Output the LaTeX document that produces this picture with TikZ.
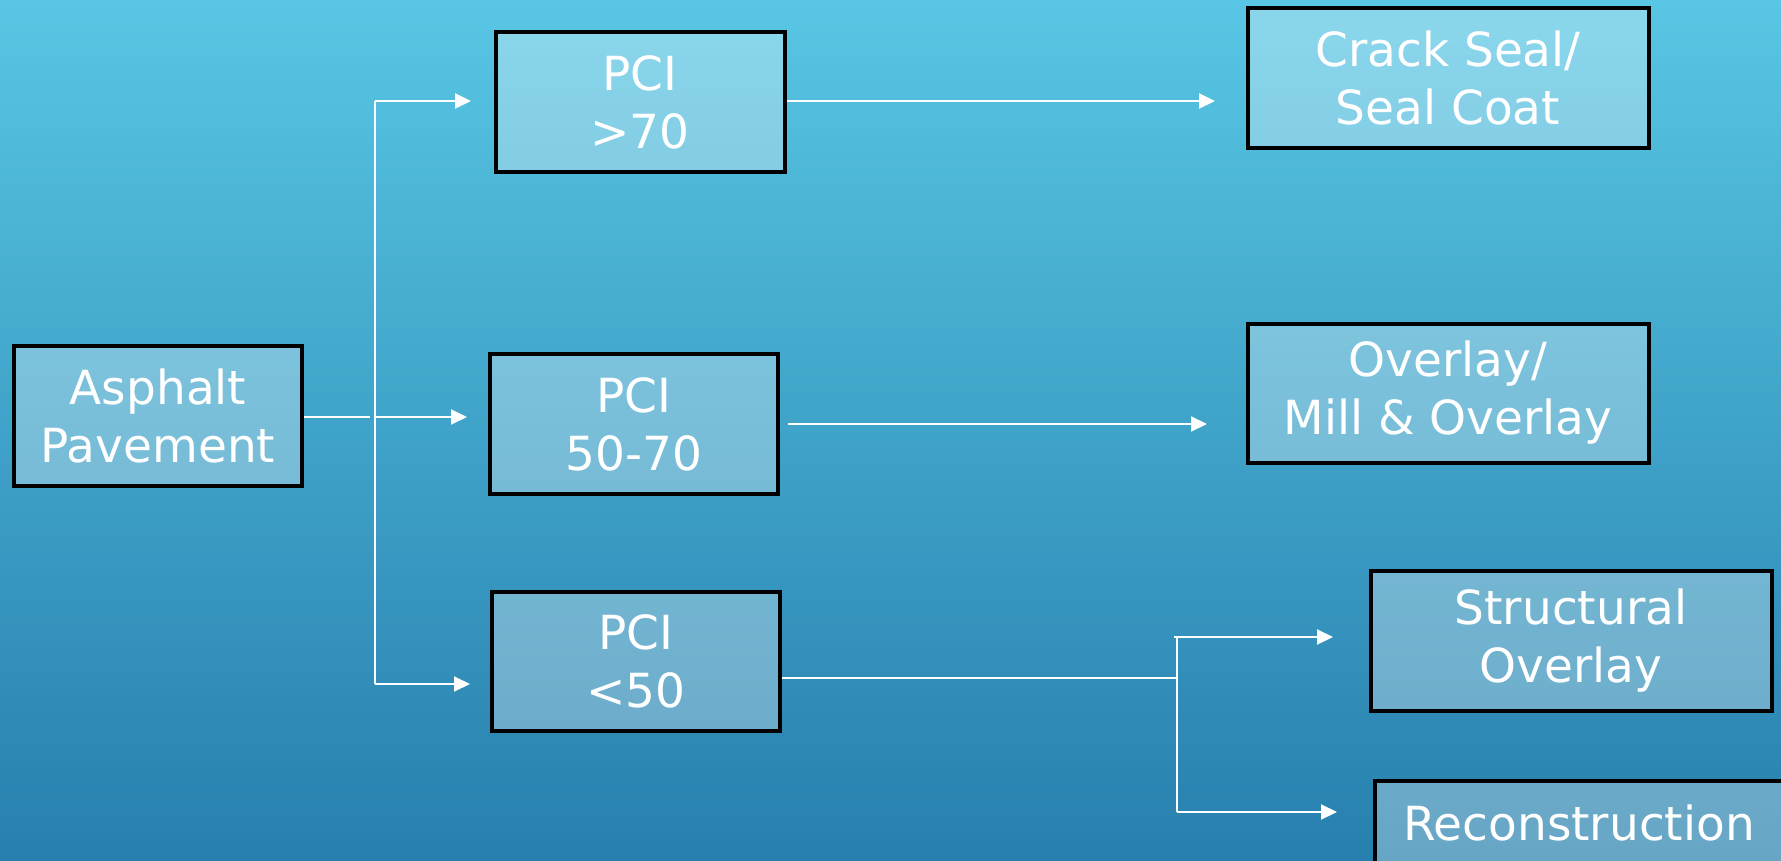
\documentclass[tikz,border=0pt]{standalone}
\usepackage{fontspec}
\setmainfont{DejaVu Sans}
\usetikzlibrary{arrows.meta}
\definecolor{bgtop}{RGB}{88,198,228}
\definecolor{bgbot}{RGB}{39,127,173}
\tikzset{
  box/.style={draw=black, line width=4pt, fill=white, fill opacity=0.3, text opacity=1,
    text=white, align=center, inner sep=0pt, font=\fontsize{47}{58}\selectfont},
  conn/.style={draw=white, line width=2pt},
  arr/.style={conn, -{Triangle[length=16pt,width=15pt]}}
}
\begin{document}
\begin{tikzpicture}[x=1pt,y=-1pt]
\shade[top color=bgtop, bottom color=bgbot] (0,0) rectangle (1781,861);
\useasboundingbox (0,0) rectangle (1781,861);

\node[box, minimum width=288pt, minimum height=140pt] (asph) at (158,416) {Asphalt\\Pavement};
\node[box, minimum width=289pt, minimum height=140pt] (p70) at (640,102) {PCI\\>70};
\node[box, minimum width=288pt, minimum height=140pt] (p5070) at (634,424) {PCI\\50-70};
\node[box, minimum width=288pt, minimum height=139pt] (p50) at (636,661) {PCI\\<50};
\node[box, minimum width=401pt, minimum height=140pt] (crack) at (1448,78) {Crack Seal/\\Seal Coat};
\node[box, minimum width=401pt, minimum height=139pt] (overlay) at (1448,393) {Overlay/\\Mill \& Overlay};
\node[box, minimum width=401pt, minimum height=140pt] (struct) at (1571,641) {Structural\\Overlay};
\node[box, minimum width=408pt, minimum height=84pt] (recon) at (1579,823) {Reconstruction};

% left junction
\coordinate (jl) at (370,417);
\coordinate (jtop) at (375,101);
\coordinate (jmid) at (375,417);
\coordinate (jbot) at (375,684);
\coordinate (t70) at (471,101);
\coordinate (t5070) at (467,417);
\coordinate (t50) at (470,684);
\draw[conn] (asph.east |- jl) -- (jl);
\draw[conn] (jtop) -- (jbot);
\draw[arr] (jtop) -- (t70);
\draw[arr] (jmid) -- (t5070);
\draw[arr] (jbot) -- (t50);

% right arrows
\coordinate (tcrack) at (1215,101);
\coordinate (toverlay) at (1207,424);
\draw[arr] (p70.east |- tcrack) -- (tcrack);
\draw[arr] ([xshift=8pt]p5070.east |- toverlay) -- (toverlay);

% bottom junction
\coordinate (jr) at (1177,678);
\coordinate (jrtop) at (1174,637);
\coordinate (jrvert) at (1177,637);
\coordinate (jrbot) at (1177,812);
\coordinate (tstruct) at (1333,637);
\coordinate (trecon) at (1337,812);
\draw[conn] (p50.east |- jr) -- (jr);
\draw[conn] (jrvert) -- (jrbot);
\draw[arr] (jrtop) -- (tstruct);
\draw[arr] (jrbot) -- (trecon);
\end{tikzpicture}
\end{document}
